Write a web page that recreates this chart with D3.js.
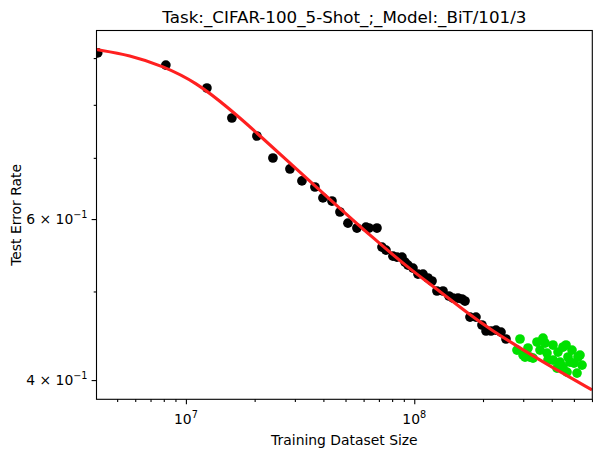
<!DOCTYPE html>
<html>
<head>
<meta charset="utf-8">
<script src="https://cdn.jsdelivr.net/npm/d3@7"></script>
<style>
  body { margin: 0; background: #fff; }
  svg { display: block; font-family: "DejaVu Sans", sans-serif; }
</style>
</head>
<body>
<svg id="chart" width="602" height="457"></svg>
<script>
// observed runs (black) — dataset size vs test error
var trainSizes = [4.11e6, 8.17e6, 1.236e7, 1.59e7, 2.046e7, 2.405e7, 2.855e7, 3.222e7, 3.673e7, 3.982e7,
  4.361e7, 4.727e7, 5.124e7, 5.61e7, 6.144e7, 6.333e7, 6.865e7, 7.22e7, 7.516e7, 8.067e7,
  8.399e7, 8.835e7, 9.107e7, 9.385e7, 9.87e7, 1.038e8, 1.092e8, 1.148e8, 1.196e8, 1.257e8,
  1.336e8, 1.419e8, 1.477e8, 1.554e8, 1.618e8, 1.668e8, 1.754e8, 1.863e8, 1.979e8, 2.062e8,
  2.168e8, 2.28e8, 2.398e8, 2.521e8];
var trainErrors = [0.9117, 0.8842, 0.8346, 0.7739, 0.7396, 0.6998, 0.6807, 0.6605, 0.6505, 0.6328,
  0.6279, 0.6108, 0.5939, 0.5866, 0.588, 0.5866, 0.5866, 0.5591, 0.5549, 0.5465,
  0.5452, 0.5452, 0.5384, 0.5343, 0.5303, 0.5224, 0.5224, 0.5172, 0.5133, 0.5006,
  0.5006, 0.4943, 0.4918, 0.4918, 0.4906, 0.4881, 0.4688, 0.4688, 0.4595, 0.4526,
  0.4526, 0.4537, 0.4514, 0.4436];

// held-out runs (green)
var heldSizes = [2.817e8, 2.904e8, 2.994e8, 3.055e8, 3.148e8, 3.212e8, 3.311e8, 3.447e8, 3.553e8, 3.662e8,
  3.736e8, 3.812e8, 3.851e8, 4.05e8, 4.05e8, 4.217e8, 4.26e8, 4.347e8, 4.48e8, 4.48e8,
  4.618e8, 4.665e8, 4.712e8, 4.808e8, 4.906e8, 5.006e8, 5.16e8, 5.212e8, 5.318e8, 5.427e8];
var heldErrors = [0.4314, 0.4436, 0.426, 0.4239, 0.4336, 0.4239, 0.4228, 0.4402, 0.4314, 0.4446,
  0.4391, 0.4281, 0.4207, 0.4369, 0.4207, 0.4122, 0.4292, 0.4185, 0.4347, 0.4133,
  0.4369, 0.4081, 0.4239, 0.4185, 0.4314, 0.4175, 0.4071, 0.4239, 0.426, 0.4154];

// fitted curve
var fitSizes = [4.055e6, 5.68e6, 7.93e6, 1.106e7, 1.558e7, 2.046e7, 2.855e7, 3.982e7, 6.594e7, 9.87e7,
  1.208e8, 1.754e8, 2.146e8, 2.994e8, 4.217e8, 6.002e8];
var fitErrors = [0.9196, 0.907, 0.882, 0.8472, 0.7915, 0.7453, 0.691, 0.6407, 0.5719, 0.5257,
  0.5069, 0.4712, 0.4549, 0.4314, 0.4102, 0.3902];

var xMajorTicks = [1e7, 1e8];
var xMajorExp = ['7', '8'];
var yMajorTicks = [0.6, 0.4];
var yMajorMant = ['6', '4'];
var yMinorTicks = [0.5, 0.7, 0.8, 0.9];
var xDomain = [4.06e6, 6.02e8];
var yDomain = [0.3811, 0.9647];

var svg = d3.select('#chart');
var margin = { top: 30.5, left: 96.5 };
var w = 495.8, h = 368.8;

var x = d3.scaleLog().domain(xDomain).range([0, w]);
var y = d3.scaleLog().domain(yDomain).range([h, 0]);

var g = svg.append('g').attr('transform', 'translate(' + margin.left + ',' + margin.top + ')');

g.append('clipPath').attr('id', 'clip')
  .append('rect').attr('width', w).attr('height', h);

// x minor ticks: 2..9 of each decade inside the domain
var xMinor = [];
[6, 7, 8].forEach(function (e) {
  for (var k = 2; k <= 9; k++) {
    var v = k * Math.pow(10, e);
    if (v >= xDomain[0] && v <= xDomain[1]) xMinor.push(v);
  }
});

function styleAxis(sel) {
  sel.select('.domain').remove();
  sel.selectAll('line').attr('stroke', '#000').attr('stroke-width', 1.1);
  sel.selectAll('text').remove();
}

g.append('g').attr('transform', 'translate(0,' + h + ')')
  .call(d3.axisBottom(x).tickValues(xMinor).tickSize(2.8)).call(styleAxis);
g.append('g').attr('transform', 'translate(0,' + h + ')')
  .call(d3.axisBottom(x).tickValues(xMajorTicks).tickSize(4.9)).call(styleAxis);
g.append('g')
  .call(d3.axisLeft(y).tickValues(yMinorTicks).tickSize(2.8)).call(styleAxis);
g.append('g')
  .call(d3.axisLeft(y).tickValues(yMajorTicks).tickSize(4.9)).call(styleAxis);

// tick labels with superscripts
xMajorTicks.forEach(function (v, i) {
  var t = g.append('text').attr('x', x(v)).attr('y', h + 24.5)
    .attr('text-anchor', 'middle').style('font-size', '13.9px');
  t.append('tspan').text('10');
  t.append('tspan').attr('dy', -6).style('font-size', '9.7px').text(xMajorExp[i]);
});

yMajorTicks.forEach(function (v, i) {
  var t = g.append('text').attr('x', -9).attr('y', y(v) + 5)
    .attr('text-anchor', 'end').style('font-size', '13.9px');
  t.append('tspan').text(yMajorMant[i] + ' \u00d7 10');
  t.append('tspan').attr('dy', -6).style('font-size', '9.7px').text('\u22121');
});

// points
var pts = g.append('g').attr('clip-path', 'url(#clip)');
trainSizes.forEach(function (s, i) {
  pts.append('circle').attr('cx', x(s)).attr('cy', y(trainErrors[i])).attr('r', 4.85).attr('fill', '#000');
});
heldSizes.forEach(function (s, i) {
  pts.append('circle').attr('cx', x(s)).attr('cy', y(heldErrors[i])).attr('r', 4.85).attr('fill', '#00e000');
});

// fitted curve
var line = d3.line()
  .x(function (d, i) { return x(fitSizes[i]); })
  .y(function (d, i) { return y(fitErrors[i]); })
  .curve(d3.curveBasis);
g.append('path').datum(fitSizes).attr('clip-path', 'url(#clip)')
  .attr('d', line).attr('fill', 'none')
  .attr('stroke', '#ff2020').attr('stroke-width', 3.1);

// frame
g.append('rect').attr('width', w).attr('height', h)
  .attr('fill', 'none').attr('stroke', '#000').attr('stroke-width', 1.1);

// titles
svg.append('text').attr('x', margin.left + w / 2).attr('y', 23)
  .attr('text-anchor', 'middle').style('font-size', '16.7px')
  .text('Task:_CIFAR-100_5-Shot_;_Model:_BiT/101/3');
svg.append('text').attr('x', margin.left + w / 2).attr('y', 445)
  .attr('text-anchor', 'middle').style('font-size', '13.9px')
  .text('Training Dataset Size');
svg.append('text').attr('transform', 'translate(21,' + (margin.top + h / 2) + ') rotate(-90)')
  .attr('text-anchor', 'middle').style('font-size', '13.9px')
  .text('Test Error Rate');
</script>
</body>
</html>
